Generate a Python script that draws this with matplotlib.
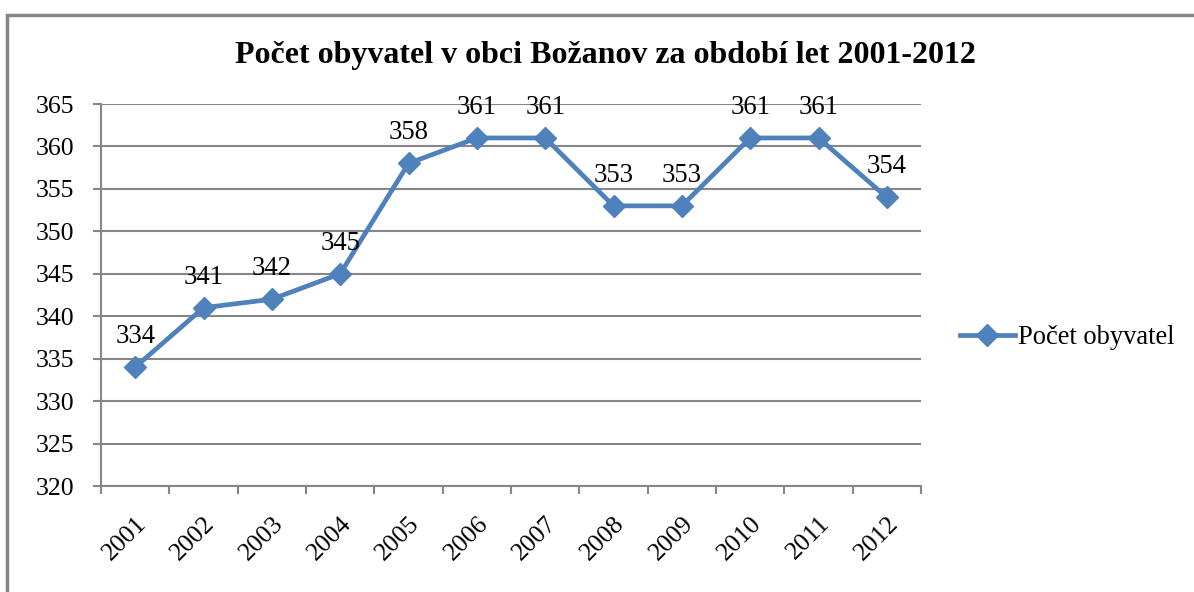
import matplotlib
matplotlib.use("Agg")
import matplotlib.pyplot as plt
from matplotlib.patches import Rectangle

years = ["2001", "2002", "2003", "2004", "2005", "2006", "2007", "2008", "2009", "2010", "2011", "2012"]
population = [334, 341, 342, 345, 358, 361, 361, 353, 353, 361, 361, 354]
yticks = [320, 325, 330, 335, 340, 345, 350, 355, 360, 365]
title = "Počet obyvatel v obci Božanov za období let 2001-2012"
series_name = "Počet obyvatel"

plt.rcParams['font.family'] = ['Liberation Serif', 'DejaVu Serif']

fig = plt.figure(figsize=(11.94, 5.92), dpi=100)
W, H = 1194, 592
ax = fig.add_axes([101 / W, 1 - 486 / H, 820 / W, 382 / H])

grid_c = '#868686'
line_c = '#4F81BD'
fs_tick = 18.5
fs_lab = 19.3

x = list(range(len(years)))
ax.plot(x, population, color=line_c, lw=3.4, marker='D', markersize=11,
        markerfacecolor=line_c, markeredgecolor=line_c, label=series_name, zorder=3)

for xi, v in zip(x, population):
    ax.annotate(str(v), (xi, v), xytext=(0, 17.3), textcoords='offset points',
                ha='center', va='baseline', fontsize=fs_lab, color='black')

ax.set_xlim(-0.5, len(years) - 0.5)
ax.set_ylim(320, 365)
ax.set_yticks(yticks)
ax.set_yticklabels([str(t) for t in yticks], fontsize=fs_tick)
for t in yticks:
    ax.axhline(t, color=grid_c, lw=1.5, zorder=1)

ax.set_xticks([i - 0.5 for i in range(len(years) + 1)])
ax.set_xticklabels([])
ax.set_xticks(x, minor=True)
ax.set_xticklabels(years, minor=True, rotation=45, ha='right', va='top',
                   rotation_mode='anchor', fontsize=fs_tick)
ax.tick_params(axis='x', which='minor', length=0, pad=19)
ax.tick_params(axis='x', which='major', length=6, width=1.5, color=grid_c, direction='out')
ax.tick_params(axis='y', length=6, width=1.5, color=grid_c, direction='out', pad=13)

for s in ['top', 'right']:
    ax.spines[s].set_visible(False)
for s in ['left', 'bottom']:
    ax.spines[s].set_color(grid_c)
    ax.spines[s].set_linewidth(1.5)

fig.text(605 / W, 1 - 55 / H, title, ha='center', va='center',
         fontsize=23, fontweight='bold')

leg = ax.legend(loc='center left', bbox_to_anchor=((960 - 101) / 820, (486 - 338) / 382),
                frameon=False, fontsize=19.1, handlelength=2.07, handletextpad=0.12,
                borderaxespad=0, borderpad=0)

fig.patches.append(Rectangle((7 / W, -0.1), 1.2, 1 - 15 / H + 0.1,
                             transform=fig.transFigure, fill=False,
                             edgecolor=grid_c, lw=2.5))

fig.savefig("out.png", dpi=100)
